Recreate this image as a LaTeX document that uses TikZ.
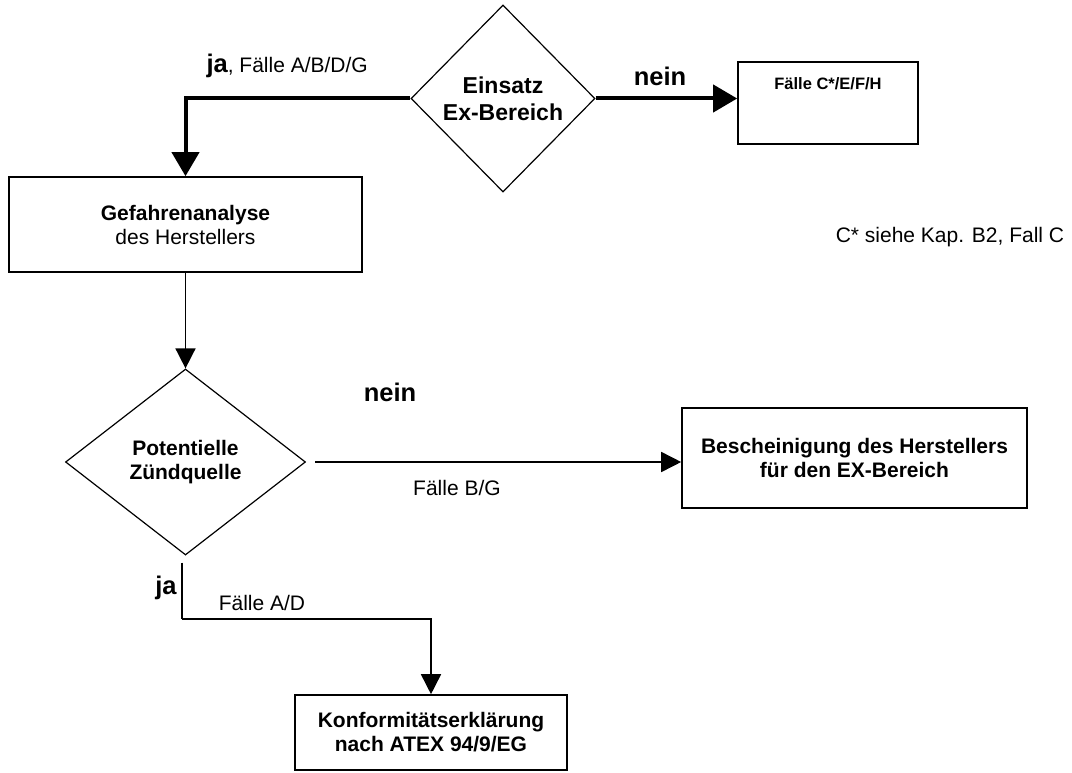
\documentclass[tikz,border=0pt]{standalone}
\usepackage{fontspec}
\setmainfont{Liberation Sans}
\usetikzlibrary{arrows.meta,shapes.geometric}
\tikzset{
  boxnode/.style={draw, line width=1.6pt, rectangle, inner sep=0pt, align=center,
    font=\fontsize{21}{24}\selectfont\bfseries},
  decision/.style={draw, line width=1.2pt, diamond, inner sep=0pt, align=center},
  thinarrow/.style={line width=1.6pt, -{Triangle[length=20pt,width=20pt]}},
  thickarrow/.style={line width=4pt, -{Triangle[length=24pt,width=27pt]}},
  smalltext/.style={font=\fontsize{21}{24}\selectfont},
  bigword/.style={font=\fontsize{25.5}{28}\selectfont\bfseries},
}
\begin{document}
\begin{tikzpicture}[x=1pt,y=-1pt]
\useasboundingbox (0,0) rectangle (1072,773);
% decision 1
\node[decision, minimum width=184pt, minimum height=187pt,
  font=\fontsize{23}{27}\selectfont\bfseries] (d1) at (503,98.5) {Einsatz\\Ex-Bereich};
% box C
\node[boxnode, minimum width=180pt, minimum height=82pt] (bc) at (828,103) {};
\node[font=\fontsize{16.5}{20}\selectfont\bfseries] (bctext) at (828,84) {Fälle C*/E/F/H};
% box 1
\node[boxnode, minimum width=353pt, minimum height=95pt] (b1) at (185.5,224.5)
  {Gefahrenanalyse\\\mdseries des Herstellers};
% decision 2
\node[decision, minimum width=240pt, minimum height=186pt,
  font=\fontsize{21}{24}\selectfont\bfseries] (d2) at (185.5,462) {Potentielle\\Zündquelle};
% box 2
\node[boxnode, minimum width=345pt, minimum height=100pt] (b2) at (854.5,458)
  {Bescheinigung des Herstellers\\für den EX-Bereich};
% box 3
\node[boxnode, minimum width=272pt, minimum height=75pt] (b3) at (431,732.5)
  {Konformitätserklärung\\nach ATEX 94/9/EG};
% note
\node[smalltext] (note) at (950,237) {C* siehe Kap. B2, Fall C};

% connectors
\draw[thickarrow] (d1.east) -- (d1.east -| bc.west);
\node[bigword] (nein1) at (660,76) {nein};
\draw[thickarrow] (d1.west) -| (b1.north);
\node[anchor=base west] (ja1) at (203,73)
  {\fontsize{25.5}{28}\selectfont\bfseries ja\fontsize{21}{24}\selectfont\mdseries, Fälle A/B/D/G};

\draw[thinarrow] (b1.south) -- (d2.north);

\draw[thinarrow, shorten <=9pt] (d2.east) -- (d2.east -| b2.west);
\node[bigword] (nein2) at (390,392) {nein};
\node[smalltext] (fbg) at (457,488) {Fälle B/G};

\coordinate (bend) at (182,619);
\draw[line width=1.6pt, shorten <=7pt] (d2.south -| bend) -- (bend);
\draw[thinarrow] (bend) -| (b3.north);
\node[bigword] (ja2) at (166,588) {ja};
\node[smalltext] (fad) at (262,603) {Fälle A/D};
\end{tikzpicture}
\end{document}
